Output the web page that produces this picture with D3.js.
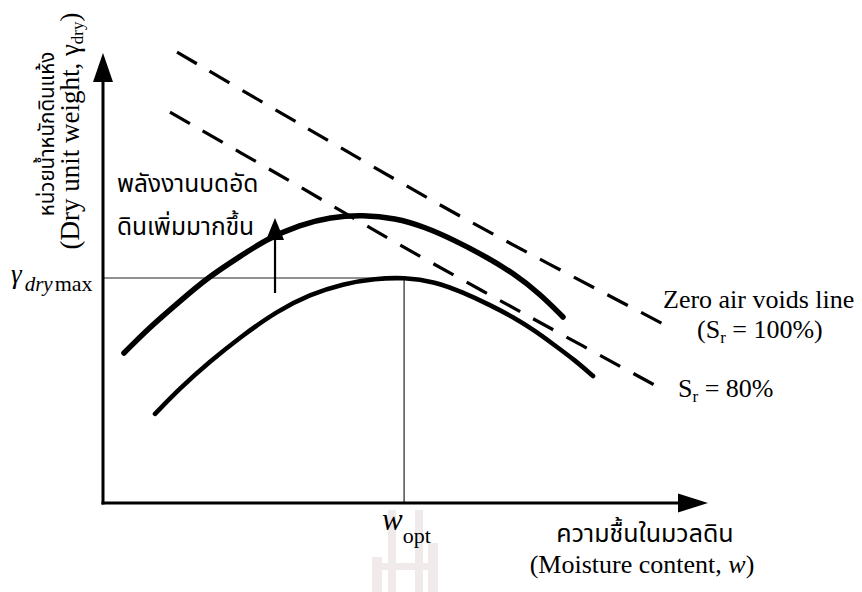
<!DOCTYPE html>
<html><head><meta charset="utf-8">
<script src="https://cdn.jsdelivr.net/npm/d3@7"></script>
<style>body{margin:0;background:#fff}</style>
</head><body>
<svg id="c" width="862" height="592"></svg>
<script>
// Moisture content (abstract units) and dry unit weight (abstract units)
const highEnergyW  = [1.04, 2.33, 3.82, 5.16, 6.79, 8.13, 9.77, 11.26, 12.89, 14.48, 15.97, 17.46, 18.94, 20.33, 21.67, 22.81];
const highEnergyGd = [5.00, 5.87, 6.73, 7.50, 8.22, 8.80, 9.27, 9.53, 9.60, 9.50, 9.20, 8.75, 8.23, 7.67, 6.97, 6.20];
const lowEnergyW   = [2.58, 3.82, 5.31, 6.79, 8.63, 10.26, 11.90, 13.49, 14.93, 16.46, 17.85, 19.19, 20.33, 21.42, 22.31, 23.40, 24.30];
const lowEnergyGd  = [2.97, 3.83, 4.72, 5.52, 6.40, 6.95, 7.31, 7.48, 7.52, 7.38, 7.02, 6.60, 6.20, 5.74, 5.30, 4.76, 4.23];
const zavW   = [3.67, 9.77, 17.80, 27.97];
const zavGd  = [15.03, 12.63, 9.53, 5.90];
const sr80W  = [3.32, 9.27, 14.73, 21.17, 27.52];
const sr80Gd = [13.03, 10.73, 8.60, 6.20, 3.87];
const wOpt = 14.93, gdMax = 7.5;
const energyArrowW = 8.53, energyArrowFrom = 7.0, energyArrowTo = 9.5;

const svg = d3.select('#c');
const x = d3.scaleLinear().domain([0, 30]).range([103, 708]);
const y = d3.scaleLinear().domain([0, 15]).range([503, 53]);
const zip = (a, b) => a.map((v, i) => [v, b[i]]);
const line = d3.line().x(d => x(d[0])).y(d => y(d[1])).curve(d3.curveCatmullRom.alpha(0.5));
const smooth = d3.line().x(d => x(d[0])).y(d => y(d[1])).curve(d3.curveBasis);

const serif = "'Liberation Serif','Times New Roman',serif";
const thai = "'Noto Sans Thai','Noto Sans Thai Looped','Loma','Garuda','Norasi','Tlwg Typist',sans-serif";

// watermark (faint logo)
const wm = svg.append('g').attr('fill', '#f1eaeb');
[[372,557,10,35],[388,510,8,82],[415,510,8,82],[428,543,10,49],[373,563,60,7]].forEach(r =>
  wm.append('rect').attr('x', r[0]).attr('y', r[1]).attr('width', r[2]).attr('height', r[3]));

// reference lines
svg.append('line').attr('x1', x(0)).attr('x2', x(wOpt)).attr('y1', y(gdMax)).attr('y2', y(gdMax))
  .attr('stroke', '#222').attr('stroke-width', 1.2);
svg.append('line').attr('x1', x(wOpt)).attr('x2', x(wOpt)).attr('y1', y(gdMax)).attr('y2', y(0))
  .attr('stroke', '#222').attr('stroke-width', 1.2);

// saturation lines
[[zavW, zavGd], [sr80W, sr80Gd]].forEach(([a, b]) =>
  svg.append('path').attr('d', line(zip(a, b))).attr('fill', 'none').attr('stroke', '#000')
    .attr('stroke-width', 3.2).attr('stroke-dasharray', '23,15'));

// compaction curves
svg.append('path').attr('d', smooth(zip(highEnergyW, highEnergyGd))).attr('fill', 'none')
  .attr('stroke', '#000').attr('stroke-width', 5.5).attr('stroke-linecap', 'round');
svg.append('path').attr('d', smooth(zip(lowEnergyW, lowEnergyGd))).attr('fill', 'none')
  .attr('stroke', '#000').attr('stroke-width', 4.6).attr('stroke-linecap', 'round');

// axes with arrowheads
const ax = svg.append('g');
ax.append('line').attr('x1', x(0)).attr('x2', x(0)).attr('y1', y(0) + 1.5).attr('y2', 82)
  .attr('stroke', '#000').attr('stroke-width', 3);
ax.append('path').attr('d', `M${x(0)-10},82L${x(0)+10},82L${x(0)},53Z`).attr('fill', '#000');
ax.append('line').attr('x1', x(0) - 1.5).attr('x2', 680).attr('y1', y(0)).attr('y2', y(0))
  .attr('stroke', '#000').attr('stroke-width', 3);
ax.append('path').attr('d', `M678,${y(0)-9.5}L678,${y(0)+9.5}L${x(30)},${y(0)}Z`).attr('fill', '#000');

// compaction-energy arrow
const ex = x(energyArrowW);
svg.append('line').attr('x1', ex).attr('x2', ex).attr('y1', y(energyArrowFrom)).attr('y2', y(energyArrowTo) + 20)
  .attr('stroke', '#000').attr('stroke-width', 2.2);
svg.append('path').attr('d', `M${ex-9},${y(energyArrowTo)+22}L${ex+9},${y(energyArrowTo)+22}L${ex},${y(energyArrowTo)}Z`)
  .attr('fill', '#000');

// texts
const t = (txt, xx, yy, size, fam, anchor) => svg.append('text').attr('x', xx).attr('y', yy)
  .attr('font-size', size).attr('font-family', fam).attr('text-anchor', anchor || 'start').attr('fill', '#000').text(txt);

t('พลังงานบดอัด', 117, 192, 24.5, thai);
t('ดินเพิ่มมากขึ้น', 117, 235, 24.5, thai);

// y-axis labels (rotated)
svg.append('text').attr('transform', 'translate(54,134) rotate(-90)').attr('text-anchor', 'middle')
  .attr('font-size', 20.5).attr('font-family', thai).text('หน่วยน้ำหนักดินแห้ง');
const yl = svg.append('text').attr('transform', 'translate(79,131) rotate(-90)').attr('text-anchor', 'middle')
  .attr('font-size', 27).attr('font-family', serif);
yl.append('tspan').text('(Dry unit weight, γ');
yl.append('tspan').attr('font-size', 17).attr('dy', 4).text('dry');
yl.append('tspan').attr('dy', -4).text(')');

// gamma dry max
const g1 = svg.append('text').attr('x', 11).attr('y', 283).attr('font-family', serif);
g1.append('tspan').attr('font-size', 27).attr('font-style', 'italic').text('γ');
g1.append('tspan').attr('font-size', 21).attr('font-style', 'italic').attr('dx', 3).attr('dy', 8).text('dry');
g1.append('tspan').attr('font-size', 22).attr('dx', 2).text('max');

// w_opt
const wo = svg.append('text').attr('x', 382).attr('y', 530).attr('font-family', serif);
wo.append('tspan').attr('font-size', 31).attr('font-style', 'italic').text('w');
wo.append('tspan').attr('font-size', 22).attr('dy', 13).text('opt');

// x-axis labels
t('ความชื้นในมวลดิน', 645, 542, 25, thai, 'middle');
const xl = svg.append('text').attr('x', 642).attr('y', 573).attr('text-anchor', 'middle')
  .attr('font-size', 26).attr('font-family', serif);
xl.append('tspan').text('(Moisture content, ');
xl.append('tspan').attr('font-style', 'italic').text('w');
xl.append('tspan').text(')');

// saturation labels
t('Zero air voids line', 663, 308, 26, serif);
const s1 = svg.append('text').attr('x', 697).attr('y', 338).attr('font-size', 26).attr('font-family', serif);
s1.append('tspan').text('(S');
s1.append('tspan').attr('font-size', 17).attr('dy', 5).text('r');
s1.append('tspan').attr('dy', -5).text(' = 100%)');
const s2 = svg.append('text').attr('x', 678).attr('y', 397).attr('font-size', 26).attr('font-family', serif);
s2.append('tspan').text('S');
s2.append('tspan').attr('font-size', 17).attr('dy', 5).text('r');
s2.append('tspan').attr('dy', -5).text(' = 80%');
</script>
</body></html>
